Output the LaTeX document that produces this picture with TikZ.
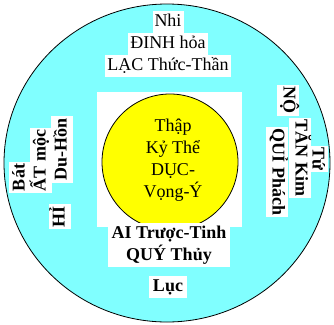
\documentclass[tikz,border=0pt]{standalone}
\usepackage{fontspec}
\setmainfont{Liberation Serif}
\usetikzlibrary{positioning}
\definecolor{Aqua}{HTML}{80FFFF}
\definecolor{Lemon}{HTML}{FFFF00}

\begin{document}
\begin{tikzpicture}[x=1pt, y=-1pt, font=\fontsize{18}{22}\selectfont]
\tikzset{tag/.style={fill=white, inner xsep=2pt, inner ysep=1.5pt, text height=14pt, text depth=5pt}, boldtag/.style={tag, font=\fontsize{18}{22}\selectfont\bfseries}, upward/.style={boldtag, rotate=90}, downward/.style={boldtag, rotate=-90}}
\useasboundingbox (0,0) rectangle (334,324);
\draw[fill=Aqua, line width=0.8pt] (167,163) ellipse [x radius=163, y radius=159];
\fill[white] (97,92) rectangle (242,227);
\node[circle, draw, fill=Lemon, line width=0.8pt, minimum size=136pt] (core) at (170,162) {};
\node[align=center] (motto) at (173,160) {Thập\\Kỷ Thể\\DỤC-\\Vọng-Ý};
% top
\node[tag] (t1) at (168,21.5) {Nhi};
\node[tag, below=0pt of t1] (t2) {ĐINH hỏa};
\node[tag, below=0pt of t2] (t3) {LẠC Thức-Thần};
% bottom
\node[boldtag, minimum width=122pt] (b1) at (169,234) {AI Trược-Tinh};
\node[boldtag, minimum width=122pt, below=0pt of b1] (b2) {QUÝ Thủy};
\node[boldtag, inner xsep=4pt] (b3) at (168,287) {Lục};
% left
\node[upward] (l1) at (20,177.5) {Bát};
\node[upward] (l2) at (41,160.5) {ẤT mộc};
\node[upward] (l3) at (62,149.5) {Du-Hồn};
\node[upward] (l4) at (60,216.5) {HỈ};
% right
\node[downward] (r1) at (317,159) {Tứ};
\node[downward] (r2) at (300,158) {TĂN Kim};
\node[downward] (r3) at (277,172) {QUỈ Phách};
\node[downward] (r4) at (288,100) {NỘ};
\end{tikzpicture}
\end{document}
